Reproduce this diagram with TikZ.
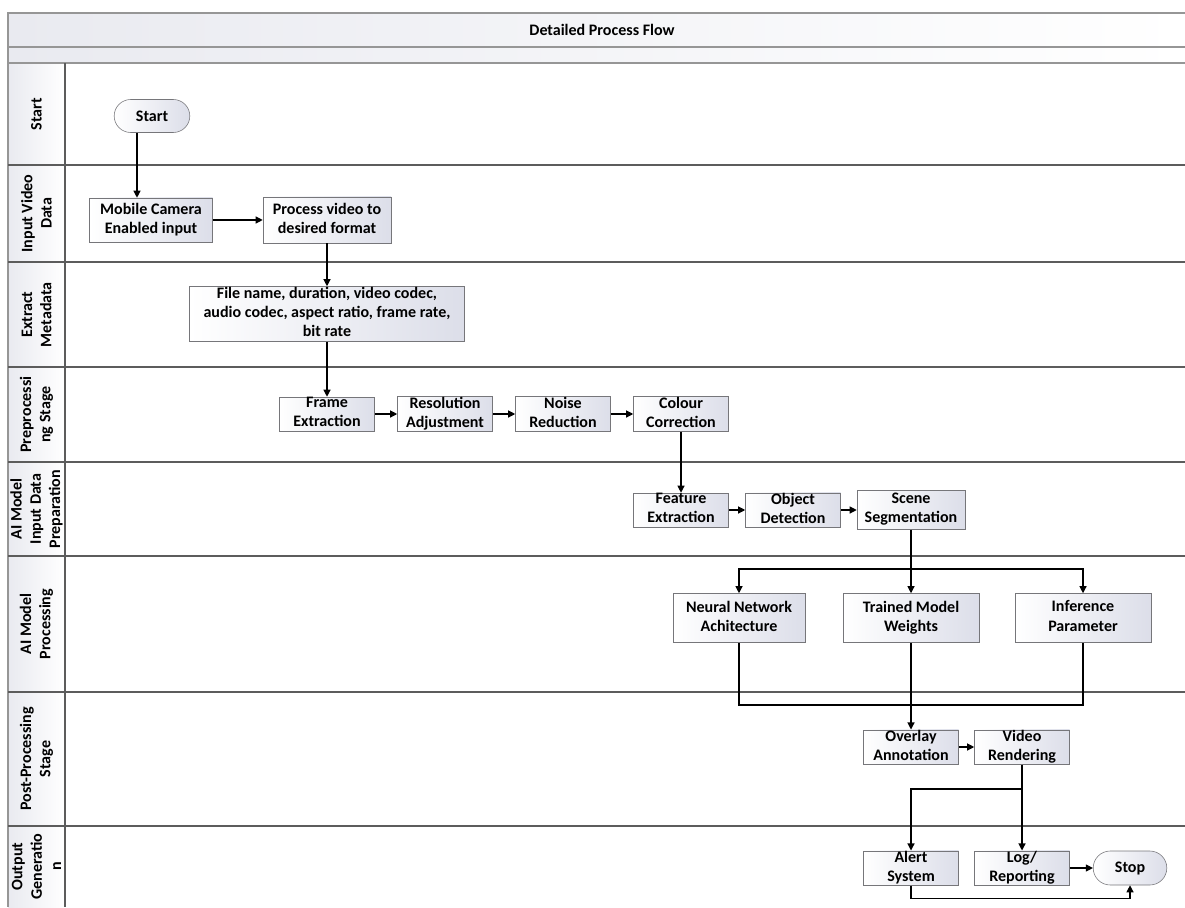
\documentclass[tikz,border=0pt]{standalone}
\usepackage{fontspec}
\setmainfont{Carlito}
\usetikzlibrary{arrows.meta,positioning,shapes.misc,calc}
\definecolor{boxborder}{RGB}{118,118,122}
\definecolor{boxshade}{RGB}{220,222,233}
\definecolor{lanegray}{RGB}{92,92,92}
\definecolor{framegray}{RGB}{150,150,150}
\definecolor{headfill}{RGB}{233,234,240}
\newcommand{\topstrut}{\rule{0pt}{8.4pt}}
\newcommand{\botstrut}{\rule[-2.8pt]{0pt}{2.8pt}}

\begin{document}
\begin{tikzpicture}[
    font=\fontsize{11.4pt}{13.7pt}\selectfont\bfseries,
    stage/.style={
        rectangle,
        draw=boxborder,
        left color=white,
        right color=boxshade,
        align=center,
        inner xsep=1pt,
        inner ysep=0pt,
        execute at begin node=\topstrut,
        execute at end node=\botstrut,
        minimum width=2.375cm,
        minimum height=0.85cm
    },
    wide/.style={
        stage,
        minimum width=3.4cm,
        minimum height=1.225cm
    },
    terminal/.style={
        rounded rectangle,
        draw=boxborder,
        left color=white,
        right color=boxshade,
        align=center,
        minimum width=2.1cm,
        minimum height=0.85cm
    },
    lanelabel/.style={rotate=90, align=center},
    lane/.style={draw=lanegray, line width=0.9pt},
    flow/.style={-{Triangle[length=5pt,width=5pt]}, line width=0.8pt},
    link/.style={line width=0.8pt}
]
\useasboundingbox (0,0) rectangle (29.625,22.675);

% FRAME AND LANES
\fill[left color=headfill, right color=white] (0.2,21.1) rectangle (29.625,22.35);
\fill[left color=headfill, right color=white] (0.2,0) rectangle (1.625,21.1);
\draw[draw=framegray, line width=0.9pt] (29.625,22.35) -- (0.2,22.35) -- (0.2,0);
\draw[draw=framegray, line width=0.9pt] (0.2,21.5) -- (29.625,21.5);
\draw[draw=framegray, line width=0.9pt] (0.2,21.1) -- (29.625,21.1);
\draw[lane] (1.625,21.1) -- (1.625,0);
\draw[lane] (0.2,18.55) -- (29.625,18.55);
\draw[lane] (0.2,16.125) -- (29.625,16.125);
\draw[lane] (0.2,13.5) -- (29.625,13.5);
\draw[lane] (0.2,11.125) -- (29.625,11.125);
\draw[lane] (0.2,8.775) -- (29.625,8.775);
\draw[lane] (0.2,5.375) -- (29.625,5.375);
\draw[lane] (0.2,2.025) -- (29.625,2.025);

\node (titulo) at (15.05,21.925) {Detailed Process Flow};

% LANE LABELS
\node[lanelabel] (lblstart) at (0.9125,19.825) {Start};
\node[lanelabel] (lblinput) at (0.9125,17.34) {Input Video\\Data};
\node[lanelabel] (lblmeta) at (0.9125,14.81) {Extract\\Metadata};
\node[lanelabel] (lblpre) at (0.9125,12.31) {Preprocessi\\ng Stage};
\node[lanelabel] (lblprep) at (0.9125,9.95) {AI Model\\Input Data\\Preparation};
\node[lanelabel] (lblproc) at (0.9125,7.075) {AI Model\\Processing};
\node[lanelabel] (lblpost) at (0.9125,3.7) {Post-Processing\\Stage};
\node[lanelabel] (lblout) at (0.9125,1.01) {Output\\Generatio\\n};

% INPUT
\node[terminal, minimum width=2.125cm, minimum height=0.825cm] (start) at (3.8,19.775) {Start};
\node[stage, minimum width=3.075cm, minimum height=1.1cm] (mobile) at (3.775,17.175) {Mobile Camera\\Enabled input};
\node[stage, minimum width=3.2cm, minimum height=1.15cm] (process) at (8.175,17.175) {Process video to\\desired format};
\node[stage, minimum width=6.875cm, minimum height=1.375cm] (metadata) at (8.175,14.825) {File name, duration, video codec,\\audio codec, aspect ratio, frame rate,\\bit rate};

% PREPROCESSING
\node[stage] (frame) at (8.175,12.325) {Frame\\Extraction};
\node[stage] (resol) at (11.125,12.325) {Resolution\\Adjustment};
\node[stage] (noise) at (14.075,12.325) {Noise\\Reduction};
\node[stage] (colour) at (17.025,12.325) {Colour\\Correction};

% AI MODEL
\node[stage] (feature) at (17.025,9.925) {Feature\\Extraction};
\node[stage] (object) at (19.825,9.925) {Object\\Detection};
\node[stage, minimum width=2.7cm, minimum height=0.975cm] (scene) at (22.775,9.925) {Scene\\Segmentation};
\node[wide, minimum width=3.3cm] (neural) at (18.475,7.225) {Neural Network\\Achitecture};
\node[wide] (trained) at (22.775,7.225) {Trained Model\\Weights};
\node[wide] (inference) at (27.075,7.225) {Inference\\Parameter};

% OUTPUT
\node[stage] (overlay) at (22.775,4.0) {Overlay\\Annotation};
\node[stage] (video) at (25.55,4.0) {Video\\Rendering};
\node[stage] (alert) at (22.775,0.975) {Alert\\System};
\node[stage] (logrep) at (25.55,0.975) {Log/\\Reporting};
\node[terminal, minimum width=2.075cm] (stop) at (28.25,0.975) {Stop};

\coordinate (ramo) at (22.775,8.45);
\coordinate (junta) at (22.775,5.05);
\coordinate (split) at (25.55,2.95);

% --- CONNECTIONS ---
\draw[flow] ([xshift=-0.375cm]start.south) -- ([xshift=-0.375cm]start.south |- mobile.north);
\draw[flow] (mobile) -- (process);
\draw[flow] (process) -- (metadata);
\draw[flow] (metadata) -- (frame);
\draw[flow] (frame) -- (resol);
\draw[flow] (resol) -- (noise);
\draw[flow] (noise) -- (colour);
\draw[flow] (colour) -- (feature);
\draw[flow] (feature) -- (object);
\draw[flow] (object) -- (scene);
\draw[flow] (scene) -- (trained);
\draw[flow] (ramo) -| (neural.north);
\draw[flow] (ramo) -| (inference.north);
\draw[link] (neural.south) |- (junta) -| (inference.south);
\draw[flow] (trained) -- (overlay);
\draw[flow] (overlay) -- (video);
\draw[flow] (video) -- (logrep);
\draw[flow] (split) -| (alert.north);
\draw[flow] (logrep) -- (stop);
\draw[flow] (alert.south) -- ++(0,-0.325) -| (stop.south);

\end{tikzpicture}
\end{document}
